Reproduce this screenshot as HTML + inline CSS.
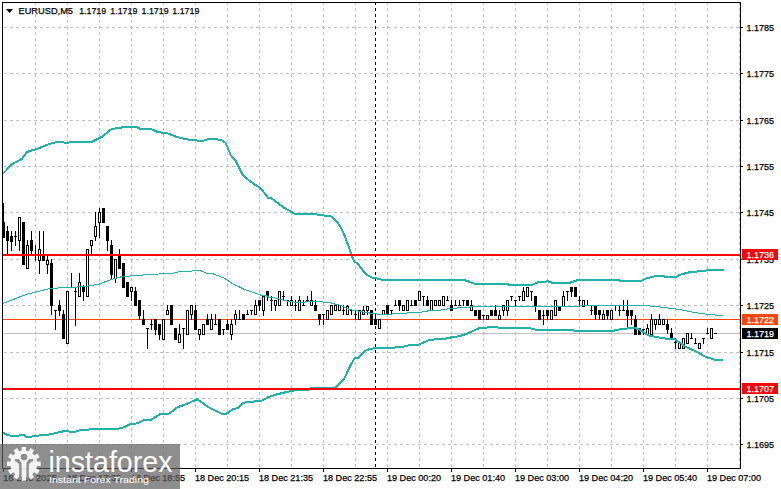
<!DOCTYPE html><html><head><meta charset="utf-8"><style>html,body{margin:0;padding:0;background:#fff;width:781px;height:489px;overflow:hidden}svg{display:block}text{font-family:"Liberation Sans",sans-serif}</style></head><body>
<svg width="781" height="489" viewBox="0 0 781 489">
<rect x="0" y="0" width="781" height="489" fill="#fff"/>
<g shape-rendering="crispEdges" stroke="#c0c0c0" stroke-width="1" stroke-dasharray="3,3">
<line x1="4" y1="27.5" x2="740" y2="27.5"/>
<line x1="4" y1="73.5" x2="740" y2="73.5"/>
<line x1="4" y1="120.5" x2="740" y2="120.5"/>
<line x1="4" y1="166.5" x2="740" y2="166.5"/>
<line x1="4" y1="212.5" x2="740" y2="212.5"/>
<line x1="4" y1="259.5" x2="740" y2="259.5"/>
<line x1="4" y1="305.5" x2="740" y2="305.5"/>
<line x1="4" y1="352.5" x2="740" y2="352.5"/>
<line x1="4" y1="398.5" x2="740" y2="398.5"/>
<line x1="4" y1="444.5" x2="740" y2="444.5"/>
<line x1="35.5" y1="2" x2="35.5" y2="468"/>
<line x1="67.5" y1="2" x2="67.5" y2="468"/>
<line x1="99.5" y1="2" x2="99.5" y2="468"/>
<line x1="131.5" y1="2" x2="131.5" y2="468"/>
<line x1="163.5" y1="2" x2="163.5" y2="468"/>
<line x1="195.5" y1="2" x2="195.5" y2="468"/>
<line x1="227.5" y1="2" x2="227.5" y2="468"/>
<line x1="259.5" y1="2" x2="259.5" y2="468"/>
<line x1="291.5" y1="2" x2="291.5" y2="468"/>
<line x1="323.5" y1="2" x2="323.5" y2="468"/>
<line x1="355.5" y1="2" x2="355.5" y2="468"/>
<line x1="387.5" y1="2" x2="387.5" y2="468"/>
<line x1="419.5" y1="2" x2="419.5" y2="468"/>
<line x1="451.5" y1="2" x2="451.5" y2="468"/>
<line x1="483.5" y1="2" x2="483.5" y2="468"/>
<line x1="515.5" y1="2" x2="515.5" y2="468"/>
<line x1="547.5" y1="2" x2="547.5" y2="468"/>
<line x1="579.5" y1="2" x2="579.5" y2="468"/>
<line x1="611.5" y1="2" x2="611.5" y2="468"/>
<line x1="643.5" y1="2" x2="643.5" y2="468"/>
<line x1="675.5" y1="2" x2="675.5" y2="468"/>
<line x1="707.5" y1="2" x2="707.5" y2="468"/>
<line x1="739.5" y1="2" x2="739.5" y2="468"/>
</g>
<line x1="375.5" y1="2" x2="375.5" y2="468" stroke="#000" stroke-width="1" stroke-dasharray="3,3" shape-rendering="crispEdges"/>
<rect x="3" y="333" width="737" height="1" fill="#c0c0c0" shape-rendering="crispEdges"/>
<rect x="3" y="319" width="737" height="1" fill="#ff4500" shape-rendering="crispEdges"/>
<g shape-rendering="crispEdges">
<rect x="3" y="203" width="1" height="35" fill="#000"/>
<rect x="2" y="222" width="3" height="16" fill="#000"/>
<rect x="7" y="226" width="1" height="29" fill="#000"/>
<rect x="6" y="231" width="3" height="10" fill="#000"/>
<rect x="11" y="231" width="1" height="20" fill="#000"/>
<rect x="10" y="236" width="3" height="6" fill="#000"/>
<rect x="15" y="231" width="1" height="15" fill="#000"/>
<rect x="14" y="236" width="3" height="1" fill="#000"/>
<rect x="19" y="217" width="1" height="34" fill="#000"/>
<rect x="18" y="217" width="3" height="24" fill="#000"/>
<rect x="19" y="218" width="1" height="22" fill="#fff"/>
<rect x="23" y="222" width="1" height="43" fill="#000"/>
<rect x="22" y="222" width="3" height="43" fill="#000"/>
<rect x="27" y="240" width="1" height="29" fill="#000"/>
<rect x="26" y="245" width="3" height="24" fill="#000"/>
<rect x="27" y="246" width="1" height="22" fill="#fff"/>
<rect x="31" y="231" width="1" height="24" fill="#000"/>
<rect x="30" y="240" width="3" height="11" fill="#000"/>
<rect x="35" y="245" width="1" height="16" fill="#000"/>
<rect x="34" y="255" width="3" height="1" fill="#000"/>
<rect x="39" y="231" width="1" height="43" fill="#000"/>
<rect x="38" y="249" width="3" height="12" fill="#000"/>
<rect x="39" y="250" width="1" height="10" fill="#fff"/>
<rect x="43" y="231" width="1" height="30" fill="#000"/>
<rect x="42" y="255" width="3" height="6" fill="#000"/>
<rect x="47" y="256" width="1" height="18" fill="#000"/>
<rect x="46" y="260" width="3" height="5" fill="#000"/>
<rect x="47" y="261" width="1" height="3" fill="#fff"/>
<rect x="51" y="259" width="1" height="56" fill="#000"/>
<rect x="50" y="263" width="3" height="43" fill="#000"/>
<rect x="55" y="310" width="1" height="20" fill="#000"/>
<rect x="54" y="310" width="3" height="1" fill="#000"/>
<rect x="59" y="300" width="1" height="16" fill="#000"/>
<rect x="58" y="305" width="3" height="6" fill="#000"/>
<rect x="63" y="310" width="1" height="29" fill="#000"/>
<rect x="62" y="314" width="3" height="25" fill="#000"/>
<rect x="67" y="291" width="1" height="53" fill="#000"/>
<rect x="66" y="291" width="3" height="53" fill="#000"/>
<rect x="67" y="292" width="1" height="51" fill="#fff"/>
<rect x="71" y="273" width="1" height="15" fill="#000"/>
<rect x="70" y="287" width="3" height="1" fill="#000"/>
<rect x="75" y="288" width="1" height="38" fill="#000"/>
<rect x="74" y="291" width="3" height="1" fill="#000"/>
<rect x="79" y="273" width="1" height="24" fill="#000"/>
<rect x="78" y="282" width="3" height="15" fill="#000"/>
<rect x="79" y="283" width="1" height="13" fill="#fff"/>
<rect x="83" y="285" width="1" height="16" fill="#000"/>
<rect x="82" y="287" width="3" height="5" fill="#000"/>
<rect x="87" y="249" width="1" height="48" fill="#000"/>
<rect x="86" y="249" width="3" height="48" fill="#000"/>
<rect x="87" y="250" width="1" height="46" fill="#fff"/>
<rect x="91" y="240" width="1" height="15" fill="#000"/>
<rect x="90" y="240" width="3" height="6" fill="#000"/>
<rect x="91" y="241" width="1" height="4" fill="#fff"/>
<rect x="95" y="212" width="1" height="29" fill="#000"/>
<rect x="94" y="226" width="3" height="11" fill="#000"/>
<rect x="95" y="227" width="1" height="9" fill="#fff"/>
<rect x="99" y="208" width="1" height="30" fill="#000"/>
<rect x="98" y="212" width="3" height="11" fill="#000"/>
<rect x="99" y="213" width="1" height="9" fill="#fff"/>
<rect x="103" y="208" width="1" height="15" fill="#000"/>
<rect x="102" y="208" width="3" height="15" fill="#000"/>
<rect x="107" y="226" width="1" height="25" fill="#000"/>
<rect x="106" y="226" width="3" height="15" fill="#000"/>
<rect x="111" y="240" width="1" height="39" fill="#000"/>
<rect x="110" y="245" width="3" height="30" fill="#000"/>
<rect x="115" y="259" width="1" height="24" fill="#000"/>
<rect x="114" y="259" width="3" height="20" fill="#000"/>
<rect x="115" y="260" width="1" height="18" fill="#fff"/>
<rect x="119" y="249" width="1" height="20" fill="#000"/>
<rect x="118" y="256" width="3" height="13" fill="#000"/>
<rect x="123" y="263" width="1" height="25" fill="#000"/>
<rect x="122" y="263" width="3" height="25" fill="#000"/>
<rect x="127" y="282" width="1" height="15" fill="#000"/>
<rect x="126" y="282" width="3" height="15" fill="#000"/>
<rect x="131" y="287" width="1" height="14" fill="#000"/>
<rect x="130" y="287" width="3" height="5" fill="#000"/>
<rect x="131" y="288" width="1" height="3" fill="#fff"/>
<rect x="135" y="287" width="1" height="19" fill="#000"/>
<rect x="134" y="291" width="3" height="15" fill="#000"/>
<rect x="139" y="300" width="1" height="20" fill="#000"/>
<rect x="138" y="300" width="3" height="16" fill="#000"/>
<rect x="143" y="310" width="1" height="15" fill="#000"/>
<rect x="142" y="319" width="3" height="6" fill="#000"/>
<rect x="147" y="328" width="1" height="21" fill="#000"/>
<rect x="146" y="328" width="3" height="1" fill="#000"/>
<rect x="151" y="319" width="1" height="11" fill="#000"/>
<rect x="150" y="324" width="3" height="1" fill="#000"/>
<rect x="155" y="319" width="1" height="16" fill="#000"/>
<rect x="154" y="319" width="3" height="11" fill="#000"/>
<rect x="159" y="324" width="1" height="16" fill="#000"/>
<rect x="158" y="324" width="3" height="11" fill="#000"/>
<rect x="163" y="319" width="1" height="21" fill="#000"/>
<rect x="162" y="319" width="3" height="21" fill="#000"/>
<rect x="163" y="320" width="1" height="19" fill="#fff"/>
<rect x="167" y="305" width="1" height="10" fill="#000"/>
<rect x="166" y="310" width="3" height="5" fill="#000"/>
<rect x="167" y="311" width="1" height="3" fill="#fff"/>
<rect x="171" y="305" width="1" height="20" fill="#000"/>
<rect x="170" y="305" width="3" height="20" fill="#000"/>
<rect x="175" y="328" width="1" height="12" fill="#000"/>
<rect x="174" y="328" width="3" height="12" fill="#000"/>
<rect x="179" y="324" width="1" height="19" fill="#000"/>
<rect x="178" y="334" width="3" height="9" fill="#000"/>
<rect x="179" y="335" width="1" height="7" fill="#fff"/>
<rect x="183" y="328" width="1" height="21" fill="#000"/>
<rect x="182" y="328" width="3" height="1" fill="#000"/>
<rect x="187" y="310" width="1" height="25" fill="#000"/>
<rect x="186" y="310" width="3" height="25" fill="#000"/>
<rect x="187" y="311" width="1" height="23" fill="#fff"/>
<rect x="191" y="305" width="1" height="15" fill="#000"/>
<rect x="190" y="305" width="3" height="10" fill="#000"/>
<rect x="191" y="306" width="1" height="8" fill="#fff"/>
<rect x="195" y="305" width="1" height="25" fill="#000"/>
<rect x="194" y="310" width="3" height="20" fill="#000"/>
<rect x="199" y="329" width="1" height="11" fill="#000"/>
<rect x="198" y="329" width="3" height="6" fill="#000"/>
<rect x="199" y="330" width="1" height="4" fill="#fff"/>
<rect x="203" y="324" width="1" height="11" fill="#000"/>
<rect x="202" y="324" width="3" height="11" fill="#000"/>
<rect x="203" y="325" width="1" height="9" fill="#fff"/>
<rect x="207" y="314" width="1" height="11" fill="#000"/>
<rect x="206" y="319" width="3" height="6" fill="#000"/>
<rect x="211" y="314" width="1" height="16" fill="#000"/>
<rect x="210" y="319" width="3" height="11" fill="#000"/>
<rect x="211" y="320" width="1" height="9" fill="#fff"/>
<rect x="215" y="314" width="1" height="11" fill="#000"/>
<rect x="214" y="324" width="3" height="1" fill="#000"/>
<rect x="219" y="319" width="1" height="16" fill="#000"/>
<rect x="218" y="319" width="3" height="16" fill="#000"/>
<rect x="223" y="329" width="1" height="6" fill="#000"/>
<rect x="222" y="329" width="3" height="1" fill="#000"/>
<rect x="227" y="319" width="1" height="11" fill="#000"/>
<rect x="226" y="324" width="3" height="6" fill="#000"/>
<rect x="231" y="319" width="1" height="21" fill="#000"/>
<rect x="230" y="324" width="3" height="11" fill="#000"/>
<rect x="231" y="325" width="1" height="9" fill="#fff"/>
<rect x="235" y="310" width="1" height="15" fill="#000"/>
<rect x="234" y="314" width="3" height="6" fill="#000"/>
<rect x="235" y="315" width="1" height="4" fill="#fff"/>
<rect x="239" y="310" width="1" height="10" fill="#000"/>
<rect x="238" y="319" width="3" height="1" fill="#000"/>
<rect x="243" y="314" width="1" height="6" fill="#000"/>
<rect x="242" y="314" width="3" height="6" fill="#000"/>
<rect x="247" y="310" width="1" height="5" fill="#000"/>
<rect x="246" y="314" width="3" height="1" fill="#000"/>
<rect x="251" y="310" width="1" height="5" fill="#000"/>
<rect x="250" y="310" width="3" height="1" fill="#000"/>
<rect x="255" y="300" width="1" height="15" fill="#000"/>
<rect x="254" y="305" width="3" height="10" fill="#000"/>
<rect x="255" y="306" width="1" height="8" fill="#fff"/>
<rect x="259" y="300" width="1" height="11" fill="#000"/>
<rect x="258" y="300" width="3" height="6" fill="#000"/>
<rect x="263" y="296" width="1" height="20" fill="#000"/>
<rect x="262" y="296" width="3" height="15" fill="#000"/>
<rect x="263" y="297" width="1" height="13" fill="#fff"/>
<rect x="267" y="291" width="1" height="10" fill="#000"/>
<rect x="266" y="291" width="3" height="6" fill="#000"/>
<rect x="271" y="296" width="1" height="15" fill="#000"/>
<rect x="270" y="300" width="3" height="1" fill="#000"/>
<rect x="275" y="300" width="1" height="11" fill="#000"/>
<rect x="274" y="300" width="3" height="6" fill="#000"/>
<rect x="275" y="301" width="1" height="4" fill="#fff"/>
<rect x="279" y="291" width="1" height="15" fill="#000"/>
<rect x="278" y="291" width="3" height="15" fill="#000"/>
<rect x="279" y="292" width="1" height="13" fill="#fff"/>
<rect x="283" y="291" width="1" height="10" fill="#000"/>
<rect x="282" y="296" width="3" height="1" fill="#000"/>
<rect x="287" y="300" width="1" height="6" fill="#000"/>
<rect x="286" y="300" width="3" height="1" fill="#000"/>
<rect x="291" y="296" width="1" height="10" fill="#000"/>
<rect x="290" y="300" width="3" height="6" fill="#000"/>
<rect x="291" y="301" width="1" height="4" fill="#fff"/>
<rect x="295" y="300" width="1" height="11" fill="#000"/>
<rect x="294" y="305" width="3" height="1" fill="#000"/>
<rect x="299" y="296" width="1" height="15" fill="#000"/>
<rect x="298" y="300" width="3" height="11" fill="#000"/>
<rect x="299" y="301" width="1" height="9" fill="#fff"/>
<rect x="303" y="300" width="1" height="6" fill="#000"/>
<rect x="302" y="305" width="3" height="1" fill="#000"/>
<rect x="307" y="296" width="1" height="5" fill="#000"/>
<rect x="306" y="300" width="3" height="1" fill="#000"/>
<rect x="311" y="291" width="1" height="15" fill="#000"/>
<rect x="310" y="300" width="3" height="6" fill="#000"/>
<rect x="311" y="301" width="1" height="4" fill="#fff"/>
<rect x="315" y="300" width="1" height="11" fill="#000"/>
<rect x="314" y="305" width="3" height="6" fill="#000"/>
<rect x="319" y="314" width="1" height="11" fill="#000"/>
<rect x="318" y="314" width="3" height="6" fill="#000"/>
<rect x="323" y="314" width="1" height="11" fill="#000"/>
<rect x="322" y="314" width="3" height="1" fill="#000"/>
<rect x="327" y="310" width="1" height="10" fill="#000"/>
<rect x="326" y="310" width="3" height="10" fill="#000"/>
<rect x="327" y="311" width="1" height="8" fill="#fff"/>
<rect x="331" y="305" width="1" height="10" fill="#000"/>
<rect x="330" y="305" width="3" height="10" fill="#000"/>
<rect x="331" y="306" width="1" height="8" fill="#fff"/>
<rect x="335" y="305" width="1" height="6" fill="#000"/>
<rect x="334" y="305" width="3" height="6" fill="#000"/>
<rect x="335" y="306" width="1" height="4" fill="#fff"/>
<rect x="339" y="305" width="1" height="6" fill="#000"/>
<rect x="338" y="305" width="3" height="6" fill="#000"/>
<rect x="339" y="306" width="1" height="4" fill="#fff"/>
<rect x="343" y="305" width="1" height="10" fill="#000"/>
<rect x="342" y="310" width="3" height="1" fill="#000"/>
<rect x="347" y="305" width="1" height="10" fill="#000"/>
<rect x="346" y="306" width="3" height="9" fill="#000"/>
<rect x="347" y="307" width="1" height="7" fill="#fff"/>
<rect x="351" y="310" width="1" height="5" fill="#000"/>
<rect x="350" y="310" width="3" height="1" fill="#000"/>
<rect x="355" y="310" width="1" height="10" fill="#000"/>
<rect x="354" y="314" width="3" height="1" fill="#000"/>
<rect x="359" y="310" width="1" height="10" fill="#000"/>
<rect x="358" y="310" width="3" height="10" fill="#000"/>
<rect x="359" y="311" width="1" height="8" fill="#fff"/>
<rect x="363" y="306" width="1" height="9" fill="#000"/>
<rect x="362" y="310" width="3" height="5" fill="#000"/>
<rect x="363" y="311" width="1" height="3" fill="#fff"/>
<rect x="367" y="306" width="1" height="9" fill="#000"/>
<rect x="366" y="306" width="3" height="5" fill="#000"/>
<rect x="367" y="307" width="1" height="3" fill="#fff"/>
<rect x="371" y="310" width="1" height="15" fill="#000"/>
<rect x="370" y="310" width="3" height="15" fill="#000"/>
<rect x="375" y="314" width="1" height="11" fill="#000"/>
<rect x="374" y="319" width="3" height="6" fill="#000"/>
<rect x="379" y="319" width="1" height="10" fill="#000"/>
<rect x="378" y="319" width="3" height="10" fill="#000"/>
<rect x="379" y="320" width="1" height="8" fill="#fff"/>
<rect x="383" y="310" width="1" height="5" fill="#000"/>
<rect x="382" y="310" width="3" height="5" fill="#000"/>
<rect x="383" y="311" width="1" height="3" fill="#fff"/>
<rect x="387" y="305" width="1" height="10" fill="#000"/>
<rect x="386" y="305" width="3" height="10" fill="#000"/>
<rect x="391" y="310" width="1" height="5" fill="#000"/>
<rect x="390" y="310" width="3" height="1" fill="#000"/>
<rect x="395" y="300" width="1" height="6" fill="#000"/>
<rect x="394" y="305" width="3" height="1" fill="#000"/>
<rect x="399" y="300" width="1" height="11" fill="#000"/>
<rect x="398" y="300" width="3" height="6" fill="#000"/>
<rect x="403" y="305" width="1" height="6" fill="#000"/>
<rect x="402" y="305" width="3" height="6" fill="#000"/>
<rect x="403" y="306" width="1" height="4" fill="#fff"/>
<rect x="407" y="300" width="1" height="11" fill="#000"/>
<rect x="406" y="300" width="3" height="11" fill="#000"/>
<rect x="407" y="301" width="1" height="9" fill="#fff"/>
<rect x="411" y="300" width="1" height="6" fill="#000"/>
<rect x="410" y="305" width="3" height="1" fill="#000"/>
<rect x="415" y="300" width="1" height="6" fill="#000"/>
<rect x="414" y="300" width="3" height="6" fill="#000"/>
<rect x="419" y="291" width="1" height="10" fill="#000"/>
<rect x="418" y="291" width="3" height="10" fill="#000"/>
<rect x="419" y="292" width="1" height="8" fill="#fff"/>
<rect x="423" y="296" width="1" height="10" fill="#000"/>
<rect x="422" y="296" width="3" height="1" fill="#000"/>
<rect x="427" y="296" width="1" height="10" fill="#000"/>
<rect x="426" y="300" width="3" height="6" fill="#000"/>
<rect x="431" y="300" width="1" height="11" fill="#000"/>
<rect x="430" y="300" width="3" height="11" fill="#000"/>
<rect x="431" y="301" width="1" height="9" fill="#fff"/>
<rect x="435" y="300" width="1" height="6" fill="#000"/>
<rect x="434" y="300" width="3" height="6" fill="#000"/>
<rect x="435" y="301" width="1" height="4" fill="#fff"/>
<rect x="439" y="300" width="1" height="6" fill="#000"/>
<rect x="438" y="300" width="3" height="6" fill="#000"/>
<rect x="439" y="301" width="1" height="4" fill="#fff"/>
<rect x="443" y="296" width="1" height="10" fill="#000"/>
<rect x="442" y="296" width="3" height="10" fill="#000"/>
<rect x="443" y="297" width="1" height="8" fill="#fff"/>
<rect x="447" y="296" width="1" height="5" fill="#000"/>
<rect x="446" y="300" width="3" height="1" fill="#000"/>
<rect x="451" y="300" width="1" height="11" fill="#000"/>
<rect x="450" y="305" width="3" height="6" fill="#000"/>
<rect x="455" y="300" width="1" height="6" fill="#000"/>
<rect x="454" y="305" width="3" height="1" fill="#000"/>
<rect x="459" y="300" width="1" height="6" fill="#000"/>
<rect x="458" y="305" width="3" height="1" fill="#000"/>
<rect x="463" y="300" width="1" height="6" fill="#000"/>
<rect x="462" y="300" width="3" height="1" fill="#000"/>
<rect x="467" y="300" width="1" height="6" fill="#000"/>
<rect x="466" y="300" width="3" height="6" fill="#000"/>
<rect x="471" y="300" width="1" height="11" fill="#000"/>
<rect x="470" y="305" width="3" height="6" fill="#000"/>
<rect x="471" y="306" width="1" height="4" fill="#fff"/>
<rect x="475" y="310" width="1" height="6" fill="#000"/>
<rect x="474" y="310" width="3" height="6" fill="#000"/>
<rect x="479" y="310" width="1" height="10" fill="#000"/>
<rect x="478" y="310" width="3" height="10" fill="#000"/>
<rect x="483" y="315" width="1" height="5" fill="#000"/>
<rect x="482" y="315" width="3" height="1" fill="#000"/>
<rect x="487" y="315" width="1" height="5" fill="#000"/>
<rect x="486" y="315" width="3" height="5" fill="#000"/>
<rect x="487" y="316" width="1" height="3" fill="#fff"/>
<rect x="491" y="310" width="1" height="6" fill="#000"/>
<rect x="490" y="310" width="3" height="6" fill="#000"/>
<rect x="495" y="305" width="1" height="11" fill="#000"/>
<rect x="494" y="310" width="3" height="6" fill="#000"/>
<rect x="499" y="310" width="1" height="10" fill="#000"/>
<rect x="498" y="315" width="3" height="5" fill="#000"/>
<rect x="499" y="316" width="1" height="3" fill="#fff"/>
<rect x="503" y="305" width="1" height="11" fill="#000"/>
<rect x="502" y="305" width="3" height="6" fill="#000"/>
<rect x="503" y="306" width="1" height="4" fill="#fff"/>
<rect x="507" y="300" width="1" height="16" fill="#000"/>
<rect x="506" y="300" width="3" height="11" fill="#000"/>
<rect x="507" y="301" width="1" height="9" fill="#fff"/>
<rect x="511" y="296" width="1" height="5" fill="#000"/>
<rect x="510" y="296" width="3" height="1" fill="#000"/>
<rect x="515" y="300" width="1" height="6" fill="#000"/>
<rect x="514" y="300" width="3" height="1" fill="#000"/>
<rect x="519" y="296" width="1" height="5" fill="#000"/>
<rect x="518" y="296" width="3" height="1" fill="#000"/>
<rect x="523" y="287" width="1" height="14" fill="#000"/>
<rect x="522" y="291" width="3" height="10" fill="#000"/>
<rect x="523" y="292" width="1" height="8" fill="#fff"/>
<rect x="527" y="287" width="1" height="10" fill="#000"/>
<rect x="526" y="287" width="3" height="10" fill="#000"/>
<rect x="527" y="288" width="1" height="8" fill="#fff"/>
<rect x="531" y="291" width="1" height="10" fill="#000"/>
<rect x="530" y="291" width="3" height="1" fill="#000"/>
<rect x="535" y="296" width="1" height="16" fill="#000"/>
<rect x="534" y="296" width="3" height="11" fill="#000"/>
<rect x="539" y="310" width="1" height="10" fill="#000"/>
<rect x="538" y="310" width="3" height="10" fill="#000"/>
<rect x="543" y="310" width="1" height="15" fill="#000"/>
<rect x="542" y="315" width="3" height="1" fill="#000"/>
<rect x="547" y="310" width="1" height="10" fill="#000"/>
<rect x="546" y="310" width="3" height="6" fill="#000"/>
<rect x="551" y="310" width="1" height="10" fill="#000"/>
<rect x="550" y="310" width="3" height="10" fill="#000"/>
<rect x="551" y="311" width="1" height="8" fill="#fff"/>
<rect x="555" y="300" width="1" height="16" fill="#000"/>
<rect x="554" y="300" width="3" height="16" fill="#000"/>
<rect x="555" y="301" width="1" height="14" fill="#fff"/>
<rect x="559" y="306" width="1" height="5" fill="#000"/>
<rect x="558" y="306" width="3" height="5" fill="#000"/>
<rect x="563" y="291" width="1" height="16" fill="#000"/>
<rect x="562" y="296" width="3" height="11" fill="#000"/>
<rect x="563" y="297" width="1" height="9" fill="#fff"/>
<rect x="567" y="291" width="1" height="10" fill="#000"/>
<rect x="566" y="291" width="3" height="1" fill="#000"/>
<rect x="571" y="287" width="1" height="10" fill="#000"/>
<rect x="570" y="287" width="3" height="5" fill="#000"/>
<rect x="575" y="287" width="1" height="10" fill="#000"/>
<rect x="574" y="287" width="3" height="10" fill="#000"/>
<rect x="579" y="296" width="1" height="11" fill="#000"/>
<rect x="578" y="300" width="3" height="1" fill="#000"/>
<rect x="583" y="300" width="1" height="7" fill="#000"/>
<rect x="582" y="300" width="3" height="7" fill="#000"/>
<rect x="583" y="301" width="1" height="5" fill="#fff"/>
<rect x="587" y="300" width="1" height="6" fill="#000"/>
<rect x="586" y="305" width="3" height="1" fill="#000"/>
<rect x="591" y="306" width="1" height="9" fill="#000"/>
<rect x="590" y="310" width="3" height="1" fill="#000"/>
<rect x="595" y="306" width="1" height="14" fill="#000"/>
<rect x="594" y="306" width="3" height="9" fill="#000"/>
<rect x="599" y="310" width="1" height="10" fill="#000"/>
<rect x="598" y="310" width="3" height="5" fill="#000"/>
<rect x="603" y="310" width="1" height="10" fill="#000"/>
<rect x="602" y="314" width="3" height="6" fill="#000"/>
<rect x="603" y="315" width="1" height="4" fill="#fff"/>
<rect x="607" y="310" width="1" height="10" fill="#000"/>
<rect x="606" y="310" width="3" height="6" fill="#000"/>
<rect x="611" y="310" width="1" height="10" fill="#000"/>
<rect x="610" y="310" width="3" height="10" fill="#000"/>
<rect x="611" y="311" width="1" height="8" fill="#fff"/>
<rect x="615" y="305" width="1" height="6" fill="#000"/>
<rect x="614" y="305" width="3" height="1" fill="#000"/>
<rect x="619" y="305" width="1" height="11" fill="#000"/>
<rect x="618" y="310" width="3" height="1" fill="#000"/>
<rect x="623" y="300" width="1" height="11" fill="#000"/>
<rect x="622" y="310" width="3" height="1" fill="#000"/>
<rect x="627" y="300" width="1" height="29" fill="#000"/>
<rect x="626" y="310" width="3" height="6" fill="#000"/>
<rect x="631" y="310" width="1" height="15" fill="#000"/>
<rect x="630" y="310" width="3" height="6" fill="#000"/>
<rect x="635" y="315" width="1" height="20" fill="#000"/>
<rect x="634" y="319" width="3" height="16" fill="#000"/>
<rect x="639" y="328" width="1" height="7" fill="#000"/>
<rect x="638" y="328" width="3" height="7" fill="#000"/>
<rect x="643" y="329" width="1" height="6" fill="#000"/>
<rect x="642" y="329" width="3" height="1" fill="#000"/>
<rect x="647" y="324" width="1" height="11" fill="#000"/>
<rect x="646" y="328" width="3" height="7" fill="#000"/>
<rect x="647" y="329" width="1" height="5" fill="#fff"/>
<rect x="651" y="314" width="1" height="21" fill="#000"/>
<rect x="650" y="319" width="3" height="16" fill="#000"/>
<rect x="651" y="320" width="1" height="14" fill="#fff"/>
<rect x="655" y="319" width="1" height="11" fill="#000"/>
<rect x="654" y="319" width="3" height="6" fill="#000"/>
<rect x="655" y="320" width="1" height="4" fill="#fff"/>
<rect x="659" y="314" width="1" height="11" fill="#000"/>
<rect x="658" y="319" width="3" height="6" fill="#000"/>
<rect x="659" y="320" width="1" height="4" fill="#fff"/>
<rect x="663" y="319" width="1" height="6" fill="#000"/>
<rect x="662" y="319" width="3" height="6" fill="#000"/>
<rect x="663" y="320" width="1" height="4" fill="#fff"/>
<rect x="667" y="319" width="1" height="15" fill="#000"/>
<rect x="666" y="324" width="3" height="6" fill="#000"/>
<rect x="671" y="328" width="1" height="11" fill="#000"/>
<rect x="670" y="333" width="3" height="6" fill="#000"/>
<rect x="675" y="338" width="1" height="11" fill="#000"/>
<rect x="674" y="342" width="3" height="1" fill="#000"/>
<rect x="679" y="343" width="1" height="6" fill="#000"/>
<rect x="678" y="343" width="3" height="6" fill="#000"/>
<rect x="679" y="344" width="1" height="4" fill="#fff"/>
<rect x="683" y="338" width="1" height="11" fill="#000"/>
<rect x="682" y="338" width="3" height="11" fill="#000"/>
<rect x="683" y="339" width="1" height="9" fill="#fff"/>
<rect x="687" y="333" width="1" height="11" fill="#000"/>
<rect x="686" y="333" width="3" height="11" fill="#000"/>
<rect x="687" y="334" width="1" height="9" fill="#fff"/>
<rect x="691" y="333" width="1" height="6" fill="#000"/>
<rect x="690" y="338" width="3" height="1" fill="#000"/>
<rect x="695" y="338" width="1" height="6" fill="#000"/>
<rect x="694" y="343" width="3" height="1" fill="#000"/>
<rect x="699" y="343" width="1" height="6" fill="#000"/>
<rect x="698" y="343" width="3" height="6" fill="#000"/>
<rect x="699" y="344" width="1" height="4" fill="#fff"/>
<rect x="703" y="338" width="1" height="6" fill="#000"/>
<rect x="702" y="338" width="3" height="1" fill="#000"/>
<rect x="707" y="328" width="1" height="6" fill="#000"/>
<rect x="706" y="333" width="3" height="1" fill="#000"/>
<rect x="711" y="328" width="1" height="11" fill="#000"/>
<rect x="710" y="328" width="3" height="11" fill="#000"/>
<rect x="711" y="329" width="1" height="9" fill="#fff"/>
<rect x="714" y="333" width="3" height="1" fill="#000"/>
</g>
<polyline points="3.0,173.5 12.0,164.3 22.0,158.8 27.0,152.0 40.0,147.8 50.0,143.7 58.0,141.9 67.0,142.8 74.0,141.7 92.0,141.7 102.0,136.7 112.0,128.8 120.0,128.0 124.6,126.5 135.4,126.5 140.0,128.8 150.7,128.8 156.9,131.6 161.5,132.7 167.6,133.4 175.3,136.5 184.5,138.8 192.2,140.3 203.0,140.8 209.1,138.8 215.2,138.8 222.9,140.8 226.0,143.4 230.6,155.0 235.7,160.7 239.3,167.9 242.9,175.1 248.6,180.1 254.4,184.4 259.4,187.2 264.4,193.0 268.0,197.7 271.5,198.3 278.7,203.7 284.4,208.0 290.2,211.2 294.5,213.7 316.0,214.0 318.8,215.2 330.3,215.9 337.4,222.1 341.0,227.6 344.7,235.9 348.4,246.0 351.2,254.3 353.9,260.8 358.5,264.5 363.1,270.9 367.8,275.5 372.4,277.7 378.8,278.8 381.6,279.7 463.0,279.6 474.6,283.7 506.8,283.7 509.0,284.8 532.2,284.8 539.0,281.8 548.3,281.4 553.0,283.0 569.0,283.0 578.0,280.0 618.3,280.0 620.0,280.8 641.7,280.8 645.0,278.8 653.3,276.7 658.3,275.8 663.3,275.8 665.0,276.7 676.7,276.7 680.0,274.7 691.7,271.7 703.3,271.3 708.3,270.0 724.0,270.0" fill="none" stroke="#20b2aa" stroke-width="2" stroke-linejoin="round" shape-rendering="crispEdges"/>
<polyline points="3.0,432.5 6.7,434.7 11.7,435.8 18.3,435.8 20.8,434.7 24.2,435.3 26.7,437.0 31.7,436.7 33.3,435.8 43.3,435.3 46.7,434.7 51.7,434.2 58.3,432.5 63.3,431.3 66.7,430.8 70.0,431.7 75.0,431.7 80.0,430.3 85.0,430.0 91.7,429.2 116.7,429.2 123.3,427.5 129.6,424.5 137.3,423.3 143.4,420.2 151.1,419.6 160.3,414.1 169.5,413.5 177.2,407.3 181.8,405.8 189.5,402.7 197.2,399.2 208.0,406.9 221.8,413.8 226.4,413.8 232.5,409.5 238.7,407.6 243.6,402.7 250.8,401.8 261.5,400.9 268.7,397.0 275.8,394.7 286.6,392.0 293.8,390.5 308.1,389.8 311.7,388.0 335.0,387.5 338.6,384.8 344.0,379.4 349.3,367.8 354.7,357.9 358.3,357.6 365.4,350.8 369.0,349.3 376.1,348.0 394.6,347.6 403.8,346.5 410.0,345.0 419.2,344.5 423.8,342.3 430.6,339.6 442.2,339.3 451.4,337.3 460.0,336.0 467.7,333.4 478.4,328.5 493.8,326.8 501.5,328.0 531.0,328.5 536.8,330.0 567.6,330.0 570.0,329.5 575.2,330.8 611.0,331.3 618.8,329.5 623.9,328.8 634.1,327.7 639.3,329.5 647.0,334.6 650.0,335.8 661.4,338.0 665.0,338.5 671.1,339.0 675.2,339.5 685.4,346.7 695.7,351.3 705.9,357.0 714.0,359.5 723.3,360.0" fill="none" stroke="#20b2aa" stroke-width="2" stroke-linejoin="round" shape-rendering="crispEdges"/>
<polyline points="3.0,303.5 26.0,294.5 50.7,288.4 77.0,287.0 85.0,286.6 98.0,284.3 117.7,277.3 134.0,275.6 158.6,274.0 172.8,273.3 180.5,271.4 192.0,271.0 193.9,270.1 200.3,270.4 206.1,273.2 212.5,273.6 218.9,276.1 224.0,278.0 231.7,283.2 243.2,288.9 252.2,292.1 262.0,295.5 266.3,295.9 268.4,297.0 273.4,297.7 276.3,298.4 282.0,299.8 286.3,300.9 293.5,301.6 294.9,302.3 302.0,302.3 309.2,301.6 318.4,301.4 323.0,302.0 329.4,302.5 334.0,303.9 340.0,305.2 345.2,307.5 350.3,309.8 355.4,310.6 363.6,312.1 370.8,313.2 378.0,314.2 385.0,314.5 396.4,313.7 404.5,313.2 420.9,312.1 425.0,311.6 430.1,310.4 440.3,310.1 450.6,308.4 465.9,307.5 475.0,306.3 520.0,306.4 560.0,307.0 569.2,306.6 585.6,305.6 643.9,305.4 650.0,306.0 664.3,307.5 678.6,309.3 693.0,312.2 707.2,314.3 723.0,315.8" fill="none" stroke="#20b2aa" stroke-width="1" stroke-linejoin="round" shape-rendering="crispEdges"/>
<g shape-rendering="crispEdges">
<rect x="3" y="254" width="737" height="2" fill="#ff0000"/>
<rect x="3" y="388" width="737" height="2" fill="#ff0000"/>
<rect x="2.5" y="2.5" width="738" height="466" fill="none" stroke="#000" stroke-width="1"/>
<rect x="741" y="27" width="2" height="1" fill="#000"/>
<rect x="741" y="73" width="2" height="1" fill="#000"/>
<rect x="741" y="120" width="2" height="1" fill="#000"/>
<rect x="741" y="166" width="2" height="1" fill="#000"/>
<rect x="741" y="212" width="2" height="1" fill="#000"/>
<rect x="741" y="259" width="2" height="1" fill="#000"/>
<rect x="741" y="305" width="2" height="1" fill="#000"/>
<rect x="741" y="352" width="2" height="1" fill="#000"/>
<rect x="741" y="398" width="2" height="1" fill="#000"/>
<rect x="741" y="444" width="2" height="1" fill="#000"/>
<rect x="3" y="469" width="1" height="3" fill="#000"/>
<rect x="67" y="469" width="1" height="3" fill="#000"/>
<rect x="131" y="469" width="1" height="3" fill="#000"/>
<rect x="195" y="469" width="1" height="3" fill="#000"/>
<rect x="259" y="469" width="1" height="3" fill="#000"/>
<rect x="323" y="469" width="1" height="3" fill="#000"/>
<rect x="387" y="469" width="1" height="3" fill="#000"/>
<rect x="451" y="469" width="1" height="3" fill="#000"/>
<rect x="515" y="469" width="1" height="3" fill="#000"/>
<rect x="579" y="469" width="1" height="3" fill="#000"/>
<rect x="643" y="469" width="1" height="3" fill="#000"/>
<rect x="707" y="469" width="1" height="3" fill="#000"/>
</g>
<g font-size="9.8" fill="#000" stroke="#000" stroke-width="0.25">
<text x="746.5" y="31" textLength="27.5" lengthAdjust="spacingAndGlyphs">1.1785</text>
<text x="746.5" y="77" textLength="27.5" lengthAdjust="spacingAndGlyphs">1.1775</text>
<text x="746.5" y="124" textLength="27.5" lengthAdjust="spacingAndGlyphs">1.1765</text>
<text x="746.5" y="170" textLength="27.5" lengthAdjust="spacingAndGlyphs">1.1755</text>
<text x="746.5" y="216" textLength="27.5" lengthAdjust="spacingAndGlyphs">1.1745</text>
<text x="746.5" y="263" textLength="27.5" lengthAdjust="spacingAndGlyphs">1.1735</text>
<text x="746.5" y="309" textLength="27.5" lengthAdjust="spacingAndGlyphs">1.1725</text>
<text x="746.5" y="356" textLength="27.5" lengthAdjust="spacingAndGlyphs">1.1715</text>
<text x="746.5" y="402" textLength="27.5" lengthAdjust="spacingAndGlyphs">1.1705</text>
<text x="746.5" y="448" textLength="27.5" lengthAdjust="spacingAndGlyphs">1.1695</text>
</g>
<g font-size="9.8" fill="#000" stroke="#000" stroke-width="0.25">
<text x="3" y="481" textLength="54" lengthAdjust="spacingAndGlyphs">18 Dec 2025</text>
<text x="67" y="481" textLength="54" lengthAdjust="spacingAndGlyphs">18 Dec 17:35</text>
<text x="131" y="481" textLength="54" lengthAdjust="spacingAndGlyphs">18 Dec 18:55</text>
<text x="195" y="481" textLength="54" lengthAdjust="spacingAndGlyphs">18 Dec 20:15</text>
<text x="259" y="481" textLength="54" lengthAdjust="spacingAndGlyphs">18 Dec 21:35</text>
<text x="323" y="481" textLength="54" lengthAdjust="spacingAndGlyphs">18 Dec 22:55</text>
<text x="387" y="481" textLength="54" lengthAdjust="spacingAndGlyphs">19 Dec 00:20</text>
<text x="451" y="481" textLength="54" lengthAdjust="spacingAndGlyphs">19 Dec 01:40</text>
<text x="515" y="481" textLength="54" lengthAdjust="spacingAndGlyphs">19 Dec 03:00</text>
<text x="579" y="481" textLength="54" lengthAdjust="spacingAndGlyphs">19 Dec 04:20</text>
<text x="643" y="481" textLength="54" lengthAdjust="spacingAndGlyphs">19 Dec 05:40</text>
<text x="707" y="481" textLength="54" lengthAdjust="spacingAndGlyphs">19 Dec 07:00</text>
</g>
<rect x="742" y="249" width="36" height="11" fill="#ff0000" shape-rendering="crispEdges"/>
<text x="746.5" y="258.0" font-size="9.8" fill="#fff" stroke="#fff" stroke-width="0.25" textLength="27.5" lengthAdjust="spacingAndGlyphs">1.1736</text>
<rect x="742" y="383" width="36" height="11" fill="#ff0000" shape-rendering="crispEdges"/>
<text x="746.5" y="392.0" font-size="9.8" fill="#fff" stroke="#fff" stroke-width="0.25" textLength="27.5" lengthAdjust="spacingAndGlyphs">1.1707</text>
<rect x="742" y="314" width="36" height="11" fill="#ff4500" shape-rendering="crispEdges"/>
<text x="746.5" y="323.0" font-size="9.8" fill="#fff" stroke="#fff" stroke-width="0.25" textLength="27.5" lengthAdjust="spacingAndGlyphs">1.1722</text>
<rect x="742" y="328" width="36" height="11" fill="#000000" shape-rendering="crispEdges"/>
<text x="746.5" y="337.0" font-size="9.8" fill="#fff" stroke="#fff" stroke-width="0.25" textLength="27.5" lengthAdjust="spacingAndGlyphs">1.1719</text>
<path d="M6 9 L13 9 L9.5 13 Z" fill="#000"/>
<text x="18.5" y="14" font-size="9.8" fill="#000" stroke="#000" stroke-width="0.25" textLength="54.5" lengthAdjust="spacingAndGlyphs">EURUSD,M5</text>
<text x="79.2" y="14" font-size="9.8" fill="#000" stroke="#000" stroke-width="0.25" textLength="27" lengthAdjust="spacingAndGlyphs">1.1719</text>
<text x="110.3" y="14" font-size="9.8" fill="#000" stroke="#000" stroke-width="0.25" textLength="27" lengthAdjust="spacingAndGlyphs">1.1719</text>
<text x="141.6" y="14" font-size="9.8" fill="#000" stroke="#000" stroke-width="0.25" textLength="27" lengthAdjust="spacingAndGlyphs">1.1719</text>
<text x="172.3" y="14" font-size="9.8" fill="#000" stroke="#000" stroke-width="0.25" textLength="27" lengthAdjust="spacingAndGlyphs">1.1719</text>
<rect x="0" y="444" width="180" height="45" fill="#5e5e5e" fill-opacity="0.7" shape-rendering="crispEdges"/>
<g opacity="0.9">
<circle cx="23.8" cy="463.8" r="13.4" fill="#fff"/>
<rect x="21.60" y="446.90" width="4.4" height="5" fill="#fff" transform="rotate(0.0 23.8 463.8)"/>
<rect x="21.60" y="446.90" width="4.4" height="5" fill="#fff" transform="rotate(30.0 23.8 463.8)"/>
<rect x="21.60" y="446.90" width="4.4" height="5" fill="#fff" transform="rotate(60.0 23.8 463.8)"/>
<rect x="21.60" y="446.90" width="4.4" height="5" fill="#fff" transform="rotate(90.0 23.8 463.8)"/>
<rect x="21.60" y="446.90" width="4.4" height="5" fill="#fff" transform="rotate(120.0 23.8 463.8)"/>
<rect x="21.60" y="446.90" width="4.4" height="5" fill="#fff" transform="rotate(150.0 23.8 463.8)"/>
<rect x="21.60" y="446.90" width="4.4" height="5" fill="#fff" transform="rotate(180.0 23.8 463.8)"/>
<rect x="21.60" y="446.90" width="4.4" height="5" fill="#fff" transform="rotate(210.0 23.8 463.8)"/>
<rect x="21.60" y="446.90" width="4.4" height="5" fill="#fff" transform="rotate(240.0 23.8 463.8)"/>
<rect x="21.60" y="446.90" width="4.4" height="5" fill="#fff" transform="rotate(270.0 23.8 463.8)"/>
<rect x="21.60" y="446.90" width="4.4" height="5" fill="#fff" transform="rotate(300.0 23.8 463.8)"/>
<rect x="21.60" y="446.90" width="4.4" height="5" fill="#fff" transform="rotate(330.0 23.8 463.8)"/>
<circle cx="24" cy="457.1" r="3.3" fill="#8e8e8e"/>
<path d="M14.8 459 L18.6 459 Q21.6 461 21.6 465 L21.6 479 L19.2 479 L19.2 465.5 Q18.5 462 14.8 461.2 Z" fill="#8e8e8e"/>
<path d="M33.2 459 L29.4 459 Q26.4 461 26.4 465 L26.4 479 L28.8 479 L28.8 465.5 Q29.5 462 33.2 461.2 Z" fill="#8e8e8e"/>
</g>
<text x="48.5" y="472" font-size="30" fill="#fff" textLength="124" lengthAdjust="spacingAndGlyphs">instaforex</text>
<text x="49" y="483.3" font-size="9.8" fill="#fff" textLength="100" lengthAdjust="spacingAndGlyphs">Instant Forex Trading</text>
</svg></body></html>
